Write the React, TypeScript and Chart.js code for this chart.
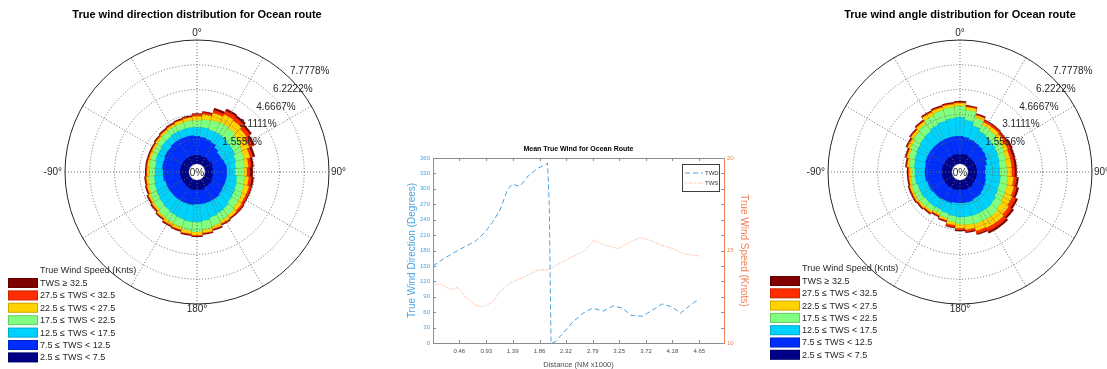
import React, { useEffect, useRef } from "react";
import { Chart, registerables } from "chart.js";

Chart.register(...registerables);

// ---------- Wind-rose data (percent of time per 10° direction bin, per speed class) ----------
const DIRECTION_BINS = [
  "0", "10", "20", "30", "40", "50", "60", "70", "80", "90", "100", "110",
  "120", "130", "140", "150", "160", "170", "180", "190", "200", "210", "220", "230",
  "240", "250", "260", "270", "280", "290", "300", "310", "320", "330", "340", "350",
];

const SPEED_CLASS_LABELS = [
  "2.5 ≤ TWS < 7.5",
  "7.5 ≤ TWS < 12.5",
  "12.5 ≤ TWS < 17.5",
  "17.5 ≤ TWS < 22.5",
  "22.5 ≤ TWS < 27.5",
  "27.5 ≤ TWS < 32.5",
  "TWS ≥ 32.5",
];
const SPEED_CLASS_COLORS = [
  "rgb(0,0,135)",
  "rgb(0,45,255)",
  "rgb(0,210,255)",
  "rgb(128,255,128)",
  "rgb(255,210,0)",
  "rgb(255,45,0)",
  "rgb(128,0,0)",
];

// True wind direction rose
const dirNavy = [0.56,0.56,0.50,0.56,0.50,0.50,0.56,0.50,0.50,0.44,0.50,0.50,0.56,0.56,0.56,0.56,0.63,0.63,0.63,0.63,0.63,0.63,0.56,0.56,0.56,0.56,0.56,0.56,0.56,0.56,0.56,0.56,0.56,0.56,0.56,0.56];
const dirBlue = [1.19,1.13,1.13,1.00,0.88,0.75,0.69,0.82,0.88,0.94,0.88,0.88,0.82,0.88,0.94,0.94,0.88,0.88,0.88,0.94,0.94,0.94,1.00,1.00,1.00,1.00,1.07,1.07,1.13,1.13,1.19,1.19,1.25,1.25,1.25,1.25];
const dirCyan = [0.56,0.63,0.63,0.69,0.82,0.88,0.88,0.69,0.56,0.50,0.63,0.69,0.75,0.75,0.82,0.88,0.94,1.07,1.13,1.07,1.00,0.94,0.88,0.82,0.75,0.69,0.56,0.50,0.44,0.50,0.44,0.50,0.44,0.50,0.50,0.50];
const dirGreen = [0.44,0.50,0.63,0.69,0.69,0.63,0.50,0.56,0.56,0.56,0.50,0.50,0.50,0.50,0.50,0.50,0.56,0.56,0.63,0.56,0.50,0.50,0.50,0.44,0.44,0.38,0.38,0.38,0.38,0.31,0.31,0.31,0.38,0.38,0.38,0.44];
const dirYellow = [0.25,0.31,0.44,0.56,0.56,0.56,0.50,0.38,0.25,0.19,0.25,0.31,0.25,0.25,0.19,0.19,0.19,0.19,0.19,0.19,0.19,0.19,0.13,0.13,0.13,0.13,0.13,0.13,0.13,0.13,0.13,0.13,0.13,0.13,0.19,0.19];
const dirRed = [0.13,0.13,0.19,0.25,0.25,0.25,0.25,0.19,0.19,0.19,0.19,0.13,0.13,0.13,0.06,0.06,0.06,0.06,0.06,0.06,0.06,0.06,0.06,0.06,0.06,0.06,0.06,0.06,0.06,0.06,0.06,0.06,0.06,0.06,0.06,0.06];
const dirDark = [0.06,0.06,0.13,0.13,0.13,0.13,0.13,0.13,0.13,0.19,0.13,0.06,0.06,0.06,0.06,0.06,0.06,0.06,0.06,0.06,0.06,0.06,0.06,0.06,0.06,0.06,0.06,0.06,0.06,0.06,0.06,0.06,0.06,0.06,0.06,0.06];

// True wind angle rose
const angNavy = [0.63,0.63,0.63,0.63,0.56,0.56,0.56,0.56,0.56,0.56,0.56,0.56,0.56,0.56,0.63,0.63,0.63,0.63,0.63,0.63,0.63,0.63,0.63,0.63,0.63,0.63,0.63,0.63,0.63,0.63,0.63,0.63,0.63,0.63,0.63,0.63];
const angBlue = [1.13,1.07,1.00,0.94,0.94,0.88,0.82,0.69,0.56,0.50,0.56,0.63,0.69,0.75,0.75,0.75,0.82,0.82,0.82,0.82,0.88,0.88,0.94,0.94,1.00,1.00,1.07,1.07,1.07,1.13,1.13,1.13,1.13,1.13,1.13,1.13];
const angCyan = [1.19,1.07,0.88,0.75,0.75,0.75,0.75,0.82,0.88,0.94,0.94,0.88,0.88,0.94,0.94,0.94,0.88,0.88,0.88,0.82,0.69,0.63,0.63,0.63,0.63,0.63,0.63,0.63,0.69,0.69,0.75,0.82,0.88,1.00,1.07,1.13];
const angGreen = [0.69,0.63,0.50,0.44,0.44,0.44,0.44,0.44,0.44,0.44,0.44,0.50,0.50,0.50,0.56,0.56,0.56,0.50,0.44,0.38,0.31,0.25,0.31,0.38,0.38,0.38,0.25,0.25,0.31,0.38,0.44,0.50,0.56,0.63,0.69,0.69];
const angYellow = [0.19,0.19,0.19,0.19,0.25,0.25,0.25,0.25,0.31,0.31,0.38,0.44,0.50,0.50,0.50,0.50,0.44,0.31,0.25,0.19,0.13,0.13,0.13,0.13,0.13,0.13,0.13,0.13,0.13,0.13,0.19,0.19,0.19,0.25,0.19,0.19];
const angRed = [0.06,0.06,0.06,0.13,0.13,0.13,0.19,0.19,0.19,0.19,0.19,0.19,0.25,0.25,0.25,0.25,0.19,0.13,0.13,0.13,0.06,0.06,0.06,0.06,0.06,0.06,0.06,0.06,0.06,0.06,0.06,0.06,0.06,0.06,0.06,0.06];
const angDark = [0.06,0.06,0.06,0.06,0.06,0.06,0.13,0.13,0.13,0.13,0.13,0.13,0.13,0.13,0.13,0.13,0.06,0.06,0.06,0.06,0.06,0.06,0.06,0.06,0.06,0.06,0.06,0.06,0.06,0.06,0.06,0.06,0.06,0.06,0.06,0.06];

// Radial axis
const RING_VALUES = [1.5556, 3.1111, 4.6667, 6.2222, 7.7778];
const RING_LABELS = ["1.5556%", "3.1111%", "4.6667%", "6.2222%", "7.7778%"];
const RADIAL_MIN = -0.5; // white centre hole
const SPOKE_ANGLES = [0, 30, 60, 90, 120, 150, 180, 210, 240, 270, 300, 330];

// ---------- Mean true wind along the route ----------
const TWD_DIST = [0, 0.2, 0.48, 0.74, 0.91, 1.04, 1.17, 1.3, 1.38, 1.52, 1.66, 1.83, 1.96, 2.0, 2.03, 2.06, 2.13, 2.27, 2.44, 2.62, 2.79, 2.97, 3.14, 3.31, 3.45, 3.66, 3.83, 4.0, 4.18, 4.32, 4.52, 4.65];
const TWD_VAL = [150, 165, 183, 198, 216, 235, 259, 298, 309, 305, 325, 340, 347, 350, 270, 0, 2, 19, 41, 58, 68, 62, 72, 68, 54, 52, 64, 76, 70, 58, 76, 86];
const TWS_DIST = [0, 0.12, 0.3, 0.44, 0.56, 0.74, 0.86, 1.04, 1.17, 1.35, 1.61, 1.84, 2.0, 2.22, 2.45, 2.66, 2.8, 3.0, 3.23, 3.44, 3.62, 3.8, 3.97, 4.18, 4.4, 4.65];
const TWS_VAL = [13.1, 13.2, 12.9, 13.0, 12.5, 12.05, 11.95, 12.2, 12.8, 13.25, 13.6, 13.95, 13.95, 14.3, 14.7, 15.0, 15.55, 15.3, 15.1, 15.45, 15.7, 15.55, 15.3, 15.1, 14.8, 14.7];
const X_TICK_LABELS = ["0.46", "0.93", "1.39", "1.86", "2.32", "2.79", "3.25", "3.72", "4.18", "4.65"];
const TWS_TICK_LABELS = ["10", "15", "20"];

const FONT = '"Liberation Sans", Arial, Helvetica, sans-serif';
const TWD_COLOR = "rgb(77,163,222)";
const TWS_COLOR = "rgb(245,160,130)";
const TWS_AXIS_COLOR = "rgb(240,130,90)";

function cumulative(classes: number[][]): number[][] {
  const out: number[][] = [];
  classes.forEach((cls, k) => {
    out.push(cls.map((v, i) => v + (k > 0 ? out[k - 1][i] : 0)));
  });
  return out;
}

type RoseCfg = {
  title: string;
  legendX: number;
  legendTitleY: number;
  rowY0: number;
  rowStep: number;
};

function makeRoseDecor(cfg: RoseCfg) {
  return {
    id: "roseDecor",
    afterDatasetsDraw(chart: any) {
      const ctx = chart.ctx as CanvasRenderingContext2D;
      const s = chart.scales.r as any;
      const cx = s.xCenter;
      const cy = s.yCenter;
      const R = (v: number) => s.getDistanceFromCenterForValue(v);
      const r0 = R(0);
      const rMax = R(RING_VALUES[RING_VALUES.length - 1]);
      ctx.save();
      // centre hole
      ctx.fillStyle = "#ffffff";
      ctx.beginPath();
      ctx.arc(cx, cy, r0, 0, Math.PI * 2);
      ctx.fill();
      // dotted rings
      ctx.strokeStyle = "#6b6b6b";
      ctx.lineWidth = 1;
      ctx.setLineDash([1, 2]);
      RING_VALUES.slice(0, -1).forEach((v) => {
        ctx.beginPath();
        ctx.arc(cx, cy, R(v), 0, Math.PI * 2);
        ctx.stroke();
      });
      // spokes
      SPOKE_ANGLES.forEach((a) => {
        const t = ((a - 90) * Math.PI) / 180;
        ctx.beginPath();
        ctx.moveTo(cx + r0 * Math.cos(t), cy + r0 * Math.sin(t));
        ctx.lineTo(cx + rMax * Math.cos(t), cy + rMax * Math.sin(t));
        ctx.stroke();
      });
      ctx.setLineDash([]);
      // outer ring
      ctx.strokeStyle = "#262626";
      ctx.beginPath();
      ctx.arc(cx, cy, rMax, 0, Math.PI * 2);
      ctx.stroke();

      // angle labels
      ctx.fillStyle = "#262626";
      ctx.font = `10px ${FONT}`;
      ctx.textBaseline = "middle";
      ctx.textAlign = "center";
      ctx.fillText("0°", cx, cy - rMax - 7);
      ctx.fillText("180°", cx, cy + rMax + 5);
      ctx.textAlign = "left";
      ctx.fillText("90°", cx + rMax + 2, cy);
      ctx.textAlign = "right";
      ctx.fillText("-90°", cx - rMax - 3, cy);

      // radial labels
      ctx.textAlign = "left";
      RING_VALUES.forEach((v, i) => {
        const r = R(v);
        ctx.fillText(RING_LABELS[i], cx + 3 + 0.682 * r, cy - 7 - 0.707 * r);
      });
      ctx.textAlign = "center";
      ctx.fillText("0%", cx, cy + 1);

      // title
      ctx.font = `bold 11px ${FONT}`;
      ctx.fillStyle = "#000000";
      ctx.fillText(cfg.title, cx, 15);

      // legend
      ctx.font = `9px ${FONT}`;
      ctx.fillStyle = "#262626";
      ctx.textAlign = "left";
      ctx.fillText("True Wind Speed (Knts)", cfg.legendX + 32, cfg.legendTitleY);
      for (let row = 0; row < SPEED_CLASS_LABELS.length; row++) {
        const k = SPEED_CLASS_LABELS.length - 1 - row;
        const y = cfg.rowY0 + row * cfg.rowStep;
        ctx.fillStyle = SPEED_CLASS_COLORS[k];
        ctx.fillRect(cfg.legendX, y - 5, 30, 10);
        ctx.strokeStyle = "rgba(0,0,0,0.2)";
        ctx.strokeRect(cfg.legendX + 0.5, y - 4.5, 29, 9);
        ctx.fillStyle = "#262626";
        ctx.fillText(SPEED_CLASS_LABELS[k], cfg.legendX + 32, y + 0.5);
      }
      ctx.restore();
    },
  };
}

function Rose(props: {
  classes: number[][];
  left: number;
  width: number;
  centerX: number;
  cfg: RoseCfg;
}) {
  const ref = useRef<HTMLCanvasElement | null>(null);
  useEffect(() => {
    if (!ref.current) return;
    const cum = cumulative(props.classes);
    const radius = 132;
    const centerY = 172;
    const chart = new Chart(ref.current, {
      type: "polarArea",
      data: {
        labels: DIRECTION_BINS,
        datasets: cum.map((vals, k) => ({
          label: SPEED_CLASS_LABELS[k],
          data: vals,
          backgroundColor: SPEED_CLASS_COLORS[k],
          borderColor: "rgba(0,0,0,0.16)",
          borderWidth: 0.5,
        })),
      },
      options: {
        responsive: false,
        animation: false,
        layout: {
          padding: {
            left: props.centerX - radius,
            right: props.width - props.centerX - radius,
            top: centerY - radius,
            bottom: 369 - centerY - radius,
          },
        },
        scales: {
          r: {
            min: RADIAL_MIN,
            max: RING_VALUES[RING_VALUES.length - 1],
            beginAtZero: false,
            startAngle: -5,
            ticks: { display: false },
            grid: { display: false },
            angleLines: { display: false },
            pointLabels: { display: false },
          },
        },
        plugins: { legend: { display: false }, tooltip: { enabled: false } },
      } as any,
      plugins: [makeRoseDecor(props.cfg)],
    });
    return () => chart.destroy();
  }, []);
  return (
    <canvas
      ref={ref}
      width={props.width}
      height={369}
      style={{ position: "absolute", left: props.left, top: 0, width: props.width, height: 369 }}
    />
  );
}

const lineDecor = {
  id: "lineDecor",
  afterDraw(chart: any) {
    const ctx = chart.ctx as CanvasRenderingContext2D;
    const a = chart.chartArea;
    const x = chart.scales.x;
    const y = chart.scales.y;
    ctx.save();
    // top border
    ctx.strokeStyle = "#8c8c8c";
    ctx.lineWidth = 1;
    ctx.beginPath();
    ctx.moveTo(a.left, a.top + 0.5);
    ctx.lineTo(a.right, a.top + 0.5);
    ctx.stroke();
    // inward tick marks
    x.ticks.forEach((t: any) => {
      const px = Math.round(x.getPixelForValue(t.value)) + 0.5;
      ctx.beginPath();
      ctx.moveTo(px, a.bottom);
      ctx.lineTo(px, a.bottom - 3);
      ctx.moveTo(px, a.top);
      ctx.lineTo(px, a.top + 3);
      ctx.stroke();
    });
    ctx.strokeStyle = TWD_COLOR;
    y.ticks.forEach((t: any) => {
      const py = Math.round(y.getPixelForValue(t.value)) + 0.5;
      ctx.beginPath();
      ctx.moveTo(a.left, py);
      ctx.lineTo(a.left + 3, py);
      ctx.moveTo(a.right, py);
      ctx.lineTo(a.right - 3, py);
      ctx.stroke();
    });
    // title
    ctx.fillStyle = "#000";
    ctx.font = `bold 7px ${FONT}`;
    ctx.textAlign = "center";
    ctx.textBaseline = "middle";
    ctx.fillText("Mean True Wind for Ocean Route", (a.left + a.right) / 2, a.top - 9);
    // legend box
    const bx = a.right - 42;
    const by = a.top + 6;
    const bw = 37;
    const bh = 27;
    ctx.fillStyle = "#fff";
    ctx.fillRect(bx, by, bw, bh);
    ctx.strokeStyle = "#404040";
    ctx.lineWidth = 1;
    ctx.strokeRect(bx + 0.5, by + 0.5, bw, bh);
    ctx.strokeStyle = TWD_COLOR;
    ctx.setLineDash([5, 3]);
    ctx.beginPath();
    ctx.moveTo(bx + 3, by + 9);
    ctx.lineTo(bx + 21, by + 9);
    ctx.stroke();
    ctx.strokeStyle = TWS_COLOR;
    ctx.setLineDash([1, 1.5]);
    ctx.beginPath();
    ctx.moveTo(bx + 3, by + 19);
    ctx.lineTo(bx + 21, by + 19);
    ctx.stroke();
    ctx.setLineDash([]);
    ctx.fillStyle = "#333";
    ctx.font = `6px ${FONT}`;
    ctx.textAlign = "left";
    ctx.fillText("TWD", bx + 23, by + 9);
    ctx.fillText("TWS", bx + 23, by + 19);
    ctx.restore();
  },
};

function WindLine() {
  const ref = useRef<HTMLCanvasElement | null>(null);
  useEffect(() => {
    if (!ref.current) return;
    const chart = new Chart(ref.current, {
      type: "line",
      data: {
        datasets: [
          {
            label: "TWD",
            data: TWD_DIST.map((d, i) => ({ x: d, y: TWD_VAL[i] })),
            yAxisID: "y",
            borderColor: TWD_COLOR,
            borderWidth: 1,
            borderDash: [5, 3],
            pointRadius: 0,
            tension: 0,
          },
          {
            label: "TWS",
            data: TWS_DIST.map((d, i) => ({ x: d, y: TWS_VAL[i] })),
            yAxisID: "y1",
            borderColor: TWS_COLOR,
            borderWidth: 1,
            borderDash: [1, 1.5],
            pointRadius: 0,
            tension: 0,
          },
        ],
      },
      options: {
        responsive: false,
        animation: false,
        layout: { padding: { left: 36, top: 28, right: 0, bottom: 0 } },
        scales: {
          x: {
            type: "linear",
            min: 0,
            max: 5.08,
            afterBuildTicks: (s: any) => {
              s.ticks = X_TICK_LABELS.map((l) => ({ value: parseFloat(l) }));
            },
            afterFit: (s: any) => {
              s.height = 26;
            },
            ticks: {
              callback: (_v: any, i: number) => X_TICK_LABELS[i],
              color: "#4d4d4d",
              font: { family: FONT, size: 6 },
              padding: 5,
              maxRotation: 0,
              autoSkip: false,
            },
            grid: { display: false, drawTicks: false },
            border: { display: true, color: "#8c8c8c" },
            title: {
              display: true,
              text: "Distance (NM x1000)",
              color: "#4d4d4d",
              font: { family: FONT, size: 7.5 },
              padding: { top: 0, bottom: 0 },
            },
          },
          y: {
            type: "linear",
            position: "left",
            min: 0,
            max: 360,
            ticks: { stepSize: 30, color: TWD_COLOR, font: { family: FONT, size: 6 }, padding: 3 },
            afterFit: (s: any) => {
              s.width = 27;
            },
            grid: { display: false, drawTicks: false },
            border: { display: true, color: TWD_COLOR },
            title: {
              display: true,
              text: "True Wind Direction (Degrees)",
              color: TWD_COLOR,
              font: { family: FONT, size: 10 },
              padding: { top: 0, bottom: 0 },
            },
          },
          y1: {
            type: "linear",
            position: "right",
            min: 10,
            max: 20,
            afterBuildTicks: (s: any) => {
              s.ticks = TWS_TICK_LABELS.map((l) => ({ value: parseFloat(l) }));
            },
            ticks: { color: TWS_AXIS_COLOR, font: { family: FONT, size: 6 }, padding: 3 },
            afterFit: (s: any) => {
              s.width = 26;
            },
            grid: { display: false, drawTicks: false },
            border: { display: true, color: TWS_AXIS_COLOR },
            title: {
              display: true,
              text: "True Wind Speed (Knots)",
              color: TWS_AXIS_COLOR,
              font: { family: FONT, size: 10 },
              padding: { top: 0, bottom: 0 },
            },
          },
        },
        plugins: { legend: { display: false }, tooltip: { enabled: false } },
      } as any,
      plugins: [lineDecor],
    });
    return () => chart.destroy();
  }, []);
  return (
    <canvas
      ref={ref}
      width={380}
      height={239}
      style={{ position: "absolute", left: 370, top: 130, width: 380, height: 239 }}
    />
  );
}

export default function App() {
  const dirClasses = [dirNavy, dirBlue, dirCyan, dirGreen, dirYellow, dirRed, dirDark];
  const angClasses = [angNavy, angBlue, angCyan, angGreen, angYellow, angRed, angDark];
  return (
    <div
      style={{
        position: "fixed",
        left: 0,
        top: 0,
        width: 1107,
        height: 369,
        background: "#ffffff",
        overflow: "hidden",
      }}
    >
      <Rose
        classes={dirClasses}
        left={0}
        width={370}
        centerX={197}
        cfg={{
          title: "True wind direction distribution for Ocean route",
          legendX: 8,
          legendTitleY: 271,
          rowY0: 283,
          rowStep: 12.4,
        }}
      />
      <WindLine />
      <Rose
        classes={angClasses}
        left={737}
        width={370}
        centerX={223}
        cfg={{
          title: "True wind angle distribution for Ocean route",
          legendX: 33,
          legendTitleY: 269,
          rowY0: 281,
          rowStep: 12.3,
        }}
      />
    </div>
  );
}
